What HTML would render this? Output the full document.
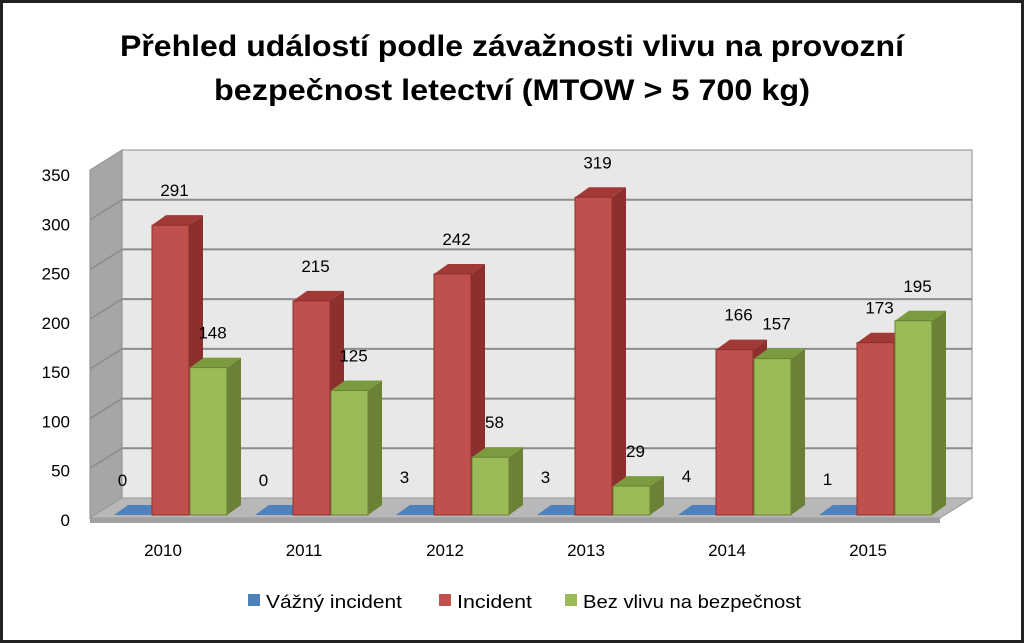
<!DOCTYPE html>
<html><head><meta charset="utf-8"><style>
html,body{margin:0;padding:0;background:#fff}
svg{display:block}
text{font-family:"Liberation Sans",sans-serif}
</style></head><body>
<svg id="chart" width="1024" height="643" viewBox="0 0 1024 643" xmlns="http://www.w3.org/2000/svg">
<rect x="1.5" y="1.5" width="1021" height="640" fill="#fff" stroke="#222" stroke-width="3"/>
<text x="512" y="56" text-anchor="middle" font-size="30" font-weight="bold" textLength="784" lengthAdjust="spacingAndGlyphs">Přehled událostí podle závažnosti vlivu na provozní</text>
<text x="512" y="100" text-anchor="middle" font-size="30" font-weight="bold" textLength="596" lengthAdjust="spacingAndGlyphs">bezpečnost letectví (MTOW &gt; 5 700 kg)</text>
<g id="plot"></g>
<g>
<g><rect x="248" y="594" width="12" height="12" fill="#4F81BD"/><text x="266" y="608" font-size="18" textLength="136" lengthAdjust="spacingAndGlyphs">Vážný incident</text></g>
<g><rect x="439" y="594" width="12" height="12" fill="#C0504D"/><text x="457" y="608" font-size="18" textLength="75" lengthAdjust="spacingAndGlyphs">Incident</text></g>
<g><rect x="565" y="594" width="12" height="12" fill="#9BBB59"/><text x="583" y="608" font-size="18" textLength="218" lengthAdjust="spacingAndGlyphs">Bez vlivu na bezpečnost</text></g>
</g>
</svg>
<script>
const categories = ["2010","2011","2012","2013","2014","2015"];
const seriesVazny = [0,0,3,3,4,1];
const seriesIncident = [291,215,242,319,166,173];
const seriesBez = [148,125,58,29,157,195];
const yTicks = [0,50,100,150,200,250,300,350];

const NS="http://www.w3.org/2000/svg";
const g=document.getElementById('plot');
function mk(tag,attrs,parent){const e=document.createElementNS(NS,tag);for(const k in attrs)e.setAttribute(k,attrs[k]);(parent||g).appendChild(e);return e;}
const yMax=350;
// back wall scale
const backBottom=498, backTop=150, backLeft=122, backRight=972;
function yBack(v){return backBottom-(v/yMax)*(backBottom-backTop);}
// front plane scale (axis labels)
function yFront(v){return 520-(v/yMax)*345;}
// bar scale
const barBase=515, barScale=0.996;
function yBar(v){return barBase-v*barScale;}
const DX=-32, DY=20; // side wall depth
// side wall
const sw=mk('polygon',{points:`${backLeft},${backTop} ${backLeft+DX},${backTop+DY} ${backLeft+DX},${backBottom+DY} ${backLeft},${backBottom}`,fill:'#A6A6A6',stroke:'#8C8C8C'});


const bw=mk('rect',{x:backLeft,y:backTop,width:backRight-backLeft,height:backBottom-backTop,fill:'#E8E8E8',stroke:'#8C8C8C'});


yTicks.forEach(t=>{
  const y=yBack(t);
  if(t>0&&t<yMax){
    const l=mk('line',{x1:backLeft,y1:y,x2:backRight,y2:y,stroke:'#8C8C8C','stroke-width':2});
    
    
    const s=mk('line',{x1:backLeft,y1:y,x2:backLeft+DX,y2:y+DY,stroke:'#8C8C8C','stroke-width':1.5});
    
    
  }
  const tx=mk('text',{x:70,y:yFront(t)+6,'text-anchor':'end','font-size':17});
  tx.textContent=t;
  
  
});
// floor
const fl=mk('polygon',{points:`${backLeft},${backBottom} ${backRight},${backBottom} ${backRight+DX},${backBottom+DY} ${backLeft+DX},${backBottom+DY}`,fill:'#B8B8B8',stroke:'#9A9A9A'});


const fe=mk('rect',{x:backLeft+DX,y:backBottom+DY,width:backRight-backLeft,height:5,fill:'#A0A0A0'});



const groupX0=114, groupStep=141, barW=37, bdx=14, bdy=10;
const series=[
 {name:'vazny',vals:seriesVazny,front:'#4F81BD',side:'#3A6393',top:'#3F6DA8'},
 {name:'incident',vals:seriesIncident,front:'#C0504D',side:'#8C2F2D',top:'#A13936'},
 {name:'bez-vlivu',vals:seriesBez,front:'#9BBB59',side:'#6A8136',top:'#7C9B3E'}];
categories.forEach((c,i)=>{
  const gx=groupX0+i*groupStep;
  series.forEach((s,j)=>{
    const v=s.vals[i];
    const x=gx+j*barW+(j>0?j:0);
    const yt=yBar(v), yb=barBase;
    const bar=mk('g',{});
    
    
    if(j===0){
      // blue bars appear as flat slivers on the floor
      mk('polygon',{points:`${x},${yb} ${x+barW},${yb} ${x+barW+bdx},${yb-bdy} ${x+bdx},${yb-bdy}`,fill:s.front},bar);
    }else{
      mk('polygon',{points:`${x+barW},${yt} ${x+barW+bdx},${yt-bdy} ${x+barW+bdx},${yb-bdy} ${x+barW},${yb}`,fill:s.side},bar);
      mk('polygon',{points:`${x},${yt} ${x+bdx},${yt-bdy} ${x+barW+bdx},${yt-bdy} ${x+barW},${yt}`,fill:s.top},bar);
      mk('rect',{x:x,y:yt,width:barW,height:yb-yt,fill:s.front,stroke:s.side,'stroke-width':1},bar);
    }
    const lb=mk('text',{x:x+barW/2+(j===0?-10:4),y:yt-29,'text-anchor':'middle','font-size':17});
    lb.textContent=v;
    
    
  });
  const xl=mk('text',{x:gx+49,y:556,'text-anchor':'middle','font-size':17});
  xl.textContent=c;
  
  
});
</script>
</body></html>
